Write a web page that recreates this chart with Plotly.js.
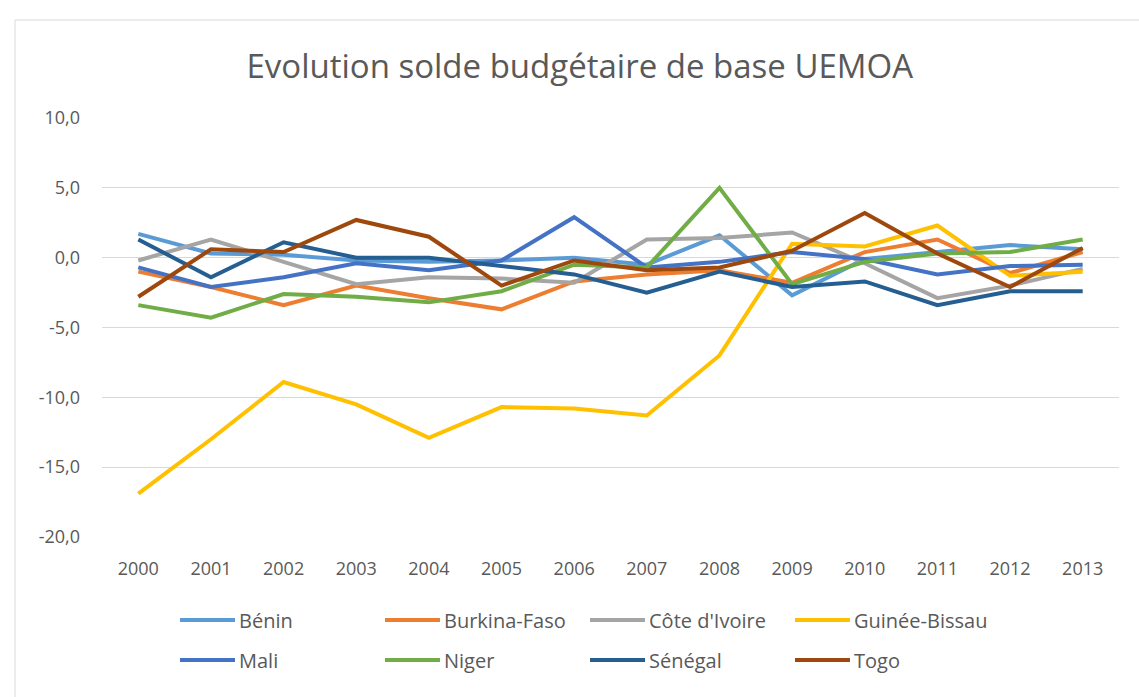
<!DOCTYPE html>
<html>
<head>
<meta charset="utf-8">
<script src="https://cdn.plot.ly/plotly-3.0.1.min.js"></script>
<style>
html,body{margin:0;padding:0;background:#fff;}
#chart{width:1139px;height:697px;}
</style>
</head>
<body>
<div id="chart"></div>
<script>
const years = ['2000','2001','2002','2003','2004','2005','2006','2007','2008','2009','2010','2011','2012','2013'];
const countries = ['Bénin','Burkina-Faso',"Côte d'Ivoire",'Guinée-Bissau','Mali','Niger','Sénégal','Togo'];
const benin    = [1.7, 0.3, 0.2, -0.2, -0.3, -0.2, 0.0, -0.5, 1.6, -2.7, -0.1, 0.4, 0.9, 0.6];
const burkina  = [-1.0, -2.1, -3.4, -2.0, -2.9, -3.7, -1.7, -1.2, -0.9, -1.8, 0.4, 1.3, -1.1, 0.4];
const coteIvoire = [-0.2, 1.3, -0.3, -1.9, -1.4, -1.5, -1.8, 1.3, 1.4, 1.8, -0.4, -2.9, -2.0, -0.8];
const guineeBissau = [-16.9, -13.0, -8.9, -10.5, -12.9, -10.7, -10.8, -11.3, -7.0, 1.0, 0.8, 2.3, -1.3, -1.0];
const mali     = [-0.7, -2.1, -1.4, -0.4, -0.9, -0.2, 2.9, -0.7, -0.3, 0.4, -0.1, -1.2, -0.6, -0.5];
const niger    = [-3.4, -4.3, -2.6, -2.8, -3.2, -2.4, -0.5, -0.7, 5.0, -1.9, -0.3, 0.3, 0.4, 1.3];
const senegal  = [1.3, -1.4, 1.1, 0.0, 0.0, -0.6, -1.2, -2.5, -1.0, -2.1, -1.7, -3.4, -2.4, -2.4];
const togo     = [-2.8, 0.6, 0.4, 2.7, 1.5, -2.0, -0.2, -0.9, -0.7, 0.5, 3.2, 0.3, -2.1, 0.7];
const yTicks = [10, 5, 0, -5, -10, -15, -20];
const yTickLabels = ['10,0', '5,0', '0,0', '-5,0', '-10,0', '-15,0', '-20,0'];

const series = [benin, burkina, coteIvoire, guineeBissau, mali, niger, senegal, togo];
const colors = ['#5B9BD5','#ED7D31','#A5A5A5','#FFC000','#4472C4','#70AD47','#255E91','#9E480E'];

const traces = series.map((vals, i) => ({
  type: 'scatter',
  mode: 'lines',
  name: countries[i],
  x: years,
  y: vals,
  line: {color: colors[i], width: 4},
  showlegend: false
}));

const fam = 'Open Sans, Liberation Sans, sans-serif';

// Plot area geometry (pixels) used only to place the legend in paper coordinates
const W = 1139, H = 697, ML = 102, MR = 20, MT = 118, MB = 160;
const PW = W - ML - MR, PH = H - MT - MB;
const px = v => (v - ML) / PW;
const py = v => (H - MB - v) / PH;

const shapes = [
  {type: 'line', xref: 'paper', yref: 'paper', x0: px(15), x1: px(1139), y0: py(20), y1: py(20), line: {color: '#d9d9d9', width: 1}},
  {type: 'line', xref: 'paper', yref: 'paper', x0: px(15), x1: px(15), y0: py(20), y1: py(697), line: {color: '#d9d9d9', width: 1}}
];
const annotations = [];
countries.forEach((name, i) => {
  const col = i % 4, row = Math.floor(i / 4);
  const x0 = 180 + col * 205;
  const yc = 620 + row * 40;
  shapes.push({type: 'line', xref: 'paper', yref: 'paper',
    x0: px(x0), x1: px(x0 + 55), y0: py(yc), y1: py(yc),
    line: {color: colors[i], width: 4}});
  annotations.push({xref: 'paper', yref: 'paper', x: px(x0 + 57), y: py(yc),
    xanchor: 'left', yanchor: 'middle', showarrow: false, text: name,
    font: {family: fam, size: 20, color: '#595959'}});
});

const layout = {
  width: W, height: H,
  paper_bgcolor: '#fff', plot_bgcolor: '#fff',
  margin: {l: ML, r: MR, t: MT, b: MB},
  font: {family: fam, color: '#595959'},
  showlegend: false,
  title: {
    text: 'Evolution solde budgétaire de base UEMOA',
    font: {family: fam, size: 33, color: '#595959'},
    x: 0.509, xanchor: 'center',
    y: 0.905, yanchor: 'middle'
  },
  xaxis: {
    type: 'category',
    range: [-0.5, 13.5],
    showgrid: false,
    showline: false,
    zeroline: false,
    ticks: '',
    tickfont: {size: 18, color: '#595959'},
    ticklabelstandoff: 19
  },
  yaxis: {
    range: [-20, 10],
    tickvals: yTicks,
    ticktext: yTickLabels,
    showgrid: true,
    gridcolor: '#d9d9d9',
    gridwidth: 1,
    zeroline: false,
    showline: false,
    ticks: '',
    tickfont: {size: 18, color: '#595959'},
    ticklabelstandoff: 21
  },
  shapes: shapes,
  annotations: annotations
};

Plotly.newPlot('chart', traces, layout, {displayModeBar: false, staticPlot: true});
</script>
</body>
</html>
